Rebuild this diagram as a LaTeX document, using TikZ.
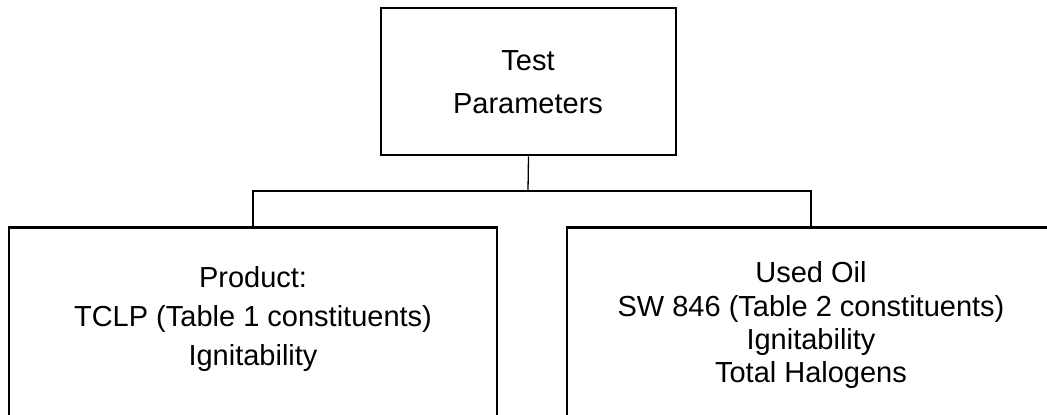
\documentclass[tikz,border=0pt]{standalone}
\usepackage{fontspec}
\setmainfont{Liberation Sans}
\begin{document}
\begin{tikzpicture}[x=1pt,y=-1pt,
  boxnode/.style={draw=black,line width=2.6pt,inner sep=0pt,rectangle},
  txt/.style={anchor=base,inner sep=0pt,font=\fontsize{29}{34}\selectfont},
  conn/.style={draw=black,line width=1.3pt}]
\useasboundingbox (0,0) rectangle (1047,415);
\clip (0,0) rectangle (1047,415);
\node[boxnode,minimum width=295pt,minimum height=147pt] (top) at (528.5,81.5) {};
\node[boxnode,minimum width=488pt,minimum height=300pt,anchor=north] (left) at (253,226) {};
\node[boxnode,minimum width=488pt,minimum height=300pt,anchor=north] (right) at (811,226) {};
\coordinate (j) at (528,191);
\draw[conn] (top.south) -- (j);
\draw[conn] (left.north) |- (j) -| (right.north);
\node[txt] (t1) at (528,70) {Test};
\node[txt] (t2) at (528,113) {Parameters};
\node[txt] (l1) at (253,287) {Product:};
\node[txt] (l2) at (253,326) {TCLP (Table 1 constituents)};
\node[txt] (l3) at (253,365) {Ignitability};
\node[txt] (r1) at (811,282) {Used Oil};
\node[txt] (r2) at (811,316) {SW 846 (Table 2 constituents)};
\node[txt] (r3) at (811,349) {Ignitability};
\node[txt] (r4) at (811,382) {Total Halogens};
\end{tikzpicture}
\end{document}
